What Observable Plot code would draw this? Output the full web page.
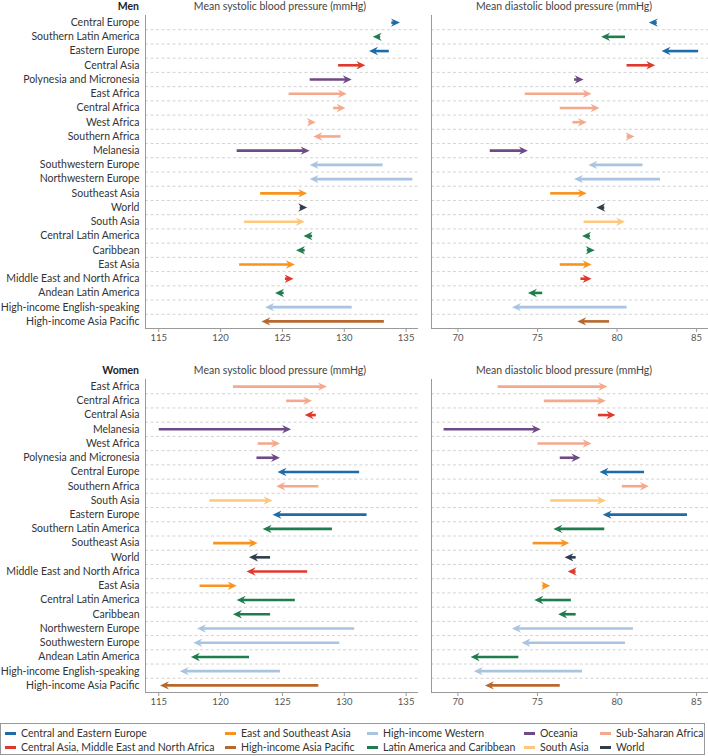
<!DOCTYPE html>
<html><head><meta charset="utf-8">
<script src="https://cdn.jsdelivr.net/npm/d3@7"></script>
<script src="https://cdn.jsdelivr.net/npm/@observablehq/plot@0.6"></script>
<style>
body{margin:0;background:#fff;}
#chart{position:relative;width:708px;height:756px;font-family:Lato,"Noto Sans",sans-serif;color:#333;overflow:hidden;}
.abs{position:absolute;line-height:12px;white-space:nowrap;}
.hdr{font-size:10.5px;transform:translateX(-50%);color:#444;}
.sex{font-weight:bold;font-size:10.5px;transform:translateX(-100%);color:#222;}
#legend{position:absolute;left:0;top:723px;width:705px;height:32px;border:1px solid #999;box-sizing:border-box;}
.li{position:absolute;font-size:10.5px;white-space:nowrap;line-height:12px;color:#333;}
.sw{position:absolute;width:11px;height:3px;}
.panel{position:absolute;}
</style></head><body><div id="chart"></div>
<script>
// ---- data ----
const groupNames = ["Central and Eastern Europe","Central Asia, Middle East and North Africa","East and Southeast Asia","High-income Asia Pacific","High-income Western","Latin America and Caribbean","Oceania","South Asia","Sub-Saharan Africa","World"];
const groupColors = ["#1b6ca8","#e0392b","#f7931e","#b8682f","#a9c4e0","#1f7d4d","#6e4a86","#fdc77d","#f6a88c","#2f3e4d"];
const regionGroup = {
  "Central Europe":"Central and Eastern Europe","Eastern Europe":"Central and Eastern Europe",
  "Central Asia":"Central Asia, Middle East and North Africa","Middle East and North Africa":"Central Asia, Middle East and North Africa",
  "Southeast Asia":"East and Southeast Asia","East Asia":"East and Southeast Asia",
  "High-income Asia Pacific":"High-income Asia Pacific",
  "Southwestern Europe":"High-income Western","Northwestern Europe":"High-income Western","High-income English-speaking":"High-income Western",
  "Southern Latin America":"Latin America and Caribbean","Central Latin America":"Latin America and Caribbean","Caribbean":"Latin America and Caribbean","Andean Latin America":"Latin America and Caribbean",
  "Polynesia and Micronesia":"Oceania","Melanesia":"Oceania",
  "South Asia":"South Asia",
  "East Africa":"Sub-Saharan Africa","Central Africa":"Sub-Saharan Africa","West Africa":"Sub-Saharan Africa","Southern Africa":"Sub-Saharan Africa",
  "World":"World"
};
const menRegions = ["Central Europe","Southern Latin America","Eastern Europe","Central Asia","Polynesia and Micronesia","East Africa","Central Africa","West Africa","Southern Africa","Melanesia","Southwestern Europe","Northwestern Europe","Southeast Asia","World","South Asia","Central Latin America","Caribbean","East Asia","Middle East and North Africa","Andean Latin America","High-income English-speaking","High-income Asia Pacific"];
const menSys1975 = [133.8,132.9,133.6,129.5,127.2,125.5,129.1,127.1,129.7,121.3,133.1,135.5,123.2,126.4,121.9,127.4,126.8,121.5,125.2,125.1,130.6,133.2];
const menSys2015 = [134.5,132.3,132.0,131.7,130.6,130.2,130.1,127.7,127.5,127.2,127.2,127.2,127.0,127.0,126.8,126.7,126.1,126.0,125.9,124.4,123.6,123.3];
const menDia1975 = [82.5,80.5,85.1,80.6,77.3,74.2,76.4,77.2,80.6,72.0,81.6,82.7,75.8,79.2,77.9,78.3,78.1,76.4,77.7,75.3,80.6,79.5];
const menDia2015 = [82.0,79.0,82.8,82.4,77.9,78.4,78.9,78.1,81.1,74.4,78.2,77.3,78.1,78.7,80.5,77.8,78.6,78.4,78.4,74.4,73.4,77.5];
const womenRegions = ["East Africa","Central Africa","Central Asia","Melanesia","West Africa","Polynesia and Micronesia","Central Europe","Southern Africa","South Asia","Eastern Europe","Southern Latin America","Southeast Asia","World","Middle East and North Africa","East Asia","Central Latin America","Caribbean","Northwestern Europe","Southwestern Europe","Andean Latin America","High-income English-speaking","High-income Asia Pacific"];
const womenSys1975 = [121.0,125.3,127.7,115.0,123.0,122.9,131.2,127.9,119.1,131.8,129.0,119.4,124.0,127.0,118.3,126.0,124.0,130.8,129.6,122.3,124.8,127.9];
const womenSys2015 = [128.6,127.4,126.8,125.7,124.8,124.8,124.6,124.5,124.2,124.2,123.4,123.0,122.3,122.1,121.3,121.3,121.0,118.1,117.8,117.6,116.7,115.1];
const womenDia1975 = [72.5,75.4,78.8,69.1,75.0,76.4,81.7,80.3,75.8,84.4,79.2,74.7,77.4,77.4,75.3,77.1,77.4,81.0,80.5,73.8,77.8,76.4];
const womenDia2015 = [79.4,79.3,79.9,75.2,78.4,77.7,78.9,82.0,79.3,79.1,76.0,77.0,76.7,76.9,75.8,74.8,76.3,73.4,74.0,70.8,71.0,71.7];
const sysTicks = [115,120,125,130,135];
const diaTicks = [70,75,80,85];
const sysDomain = [113.93,136.0];
const diaDomain = [68.34,85.75];

// ---- helpers ----
const headRight = {draw(ctx){ctx.moveTo(0,0);ctx.lineTo(-9,-4.2);ctx.lineTo(-6,0);ctx.lineTo(-9,4.2);ctx.closePath();}};
const headLeft = {draw(ctx){ctx.moveTo(0,0);ctx.lineTo(9,-4.2);ctx.lineTo(6,0);ctx.lineTo(9,4.2);ctx.closePath();}};

function rowsOf(regions, from, to){
  return regions.map((r,i)=>({region:r, i, from:from[i], to:to[i], group:regionGroup[r]}));
}

function panel({regions, from, to, domain, ticks, width, marginLeft, marginRight, showY}){
  const rows = rowsOf(regions, from, to);
  const n = regions.length;
  const marks = [
    Plot.ruleY(d3.range(n-1).map(i=>i+0.5), {stroke:"#c8c8c8", strokeDasharray:"3,2.5", strokeWidth:0.8}),
    Plot.ruleX([domain[0]], {stroke:"#9a9a9a", strokeWidth:1}),
    Plot.ruleY([n-0.5], {stroke:"#9a9a9a", strokeWidth:1}),
    Plot.axisX({ticks, tickSize:4, tickPadding:2, stroke:"#9a9a9a", fill:"#555", fontSize:9.5, label:null}),
    Plot.arrow(rows, {x1:"from", x2:"to", y1:"i", y2:"i", stroke:"group", strokeWidth:2.6, headLength:0, insetEnd:5.5, strokeLinecap:"butt"}),
    Plot.dot(rows.filter(d=>d.to>=d.from), {x:"to", y:"i", symbol:headRight, fill:"group", stroke:"none", r:4}),
    Plot.dot(rows.filter(d=>d.to<d.from), {x:"to", y:"i", symbol:headLeft, fill:"group", stroke:"none", r:4})
  ];
  if (showY) marks.push(Plot.axisY({ticks:d3.range(n), tickFormat:i=>regions[i], tickSize:0, tickPadding:6, fontSize:10.5, fill:"#333", label:null}));
  return Plot.plot({
    width, height:348, marginTop:15, marginBottom:20, marginLeft, marginRight,
    x:{domain, label:null, axis:null},
    y:{domain:[-0.5, n-0.5], reverse:true, label:null, axis:null},
    color:{domain:groupNames, range:groupColors},
    style:{fontFamily:"Lato, 'Noto Sans', sans-serif", background:"transparent", overflow:"visible"},
    marks
  });
}

const chart = document.getElementById("chart");
function place(el, left, top){ el.classList.add("panel"); el.style.left=left+"px"; el.style.top=top+"px"; chart.appendChild(el); }
function text(cls, str, left, top){ const d=document.createElement("div"); d.className="abs "+cls; d.textContent=str; d.style.left=left+"px"; d.style.top=top+"px"; chart.appendChild(d); }

const sets = [
  {sex:"Men", top:0, regions:menRegions, sys:[menSys1975,menSys2015], dia:[menDia1975,menDia2015]},
  {sex:"Women", top:364, regions:womenRegions, sys:[womenSys1975,womenSys2015], dia:[womenDia1975,womenDia2015]}
];
for (const s of sets){
  place(panel({regions:s.regions, from:s.sys[0], to:s.sys[1], domain:sysDomain, ticks:sysTicks, width:420, marginLeft:145, marginRight:2, showY:true}), 0, s.top);
  place(panel({regions:s.regions, from:s.dia[0], to:s.dia[1], domain:diaDomain, ticks:diaTicks, width:288, marginLeft:11, marginRight:0, showY:false}), 420, s.top);
  text("sex", s.sex, 139, s.top + 0);
  text("hdr", "Mean systolic blood pressure (mmHg)", 280, s.top + 0);
  text("hdr", "Mean diastolic blood pressure (mmHg)", 564, s.top + 0);
}

// legend
const legend = document.createElement("div"); legend.id="legend"; chart.appendChild(legend);
const legendOrder = [
  ["Central and Eastern Europe","East and Southeast Asia","High-income Western","Oceania","Sub-Saharan Africa"],
  ["Central Asia, Middle East and North Africa","High-income Asia Pacific","Latin America and Caribbean","South Asia","World"]
];
const colX = [5,225,367,524,600];
legendOrder.forEach((row,ri)=>row.forEach((g,ci)=>{
  const sw=document.createElement("div"); sw.className="sw"; sw.style.background=groupColors[groupNames.indexOf(g)];
  sw.style.left=(colX[ci]-1)+"px"; sw.style.top=(8.5+ri*14.6-1)+"px"; legend.appendChild(sw);
  const t=document.createElement("div"); t.className="li"; t.textContent=g;
  t.style.left=(colX[ci]+15)+"px"; t.style.top=(3.5+ri*14.6-1)+"px"; legend.appendChild(t);
}));
</script></body></html>
